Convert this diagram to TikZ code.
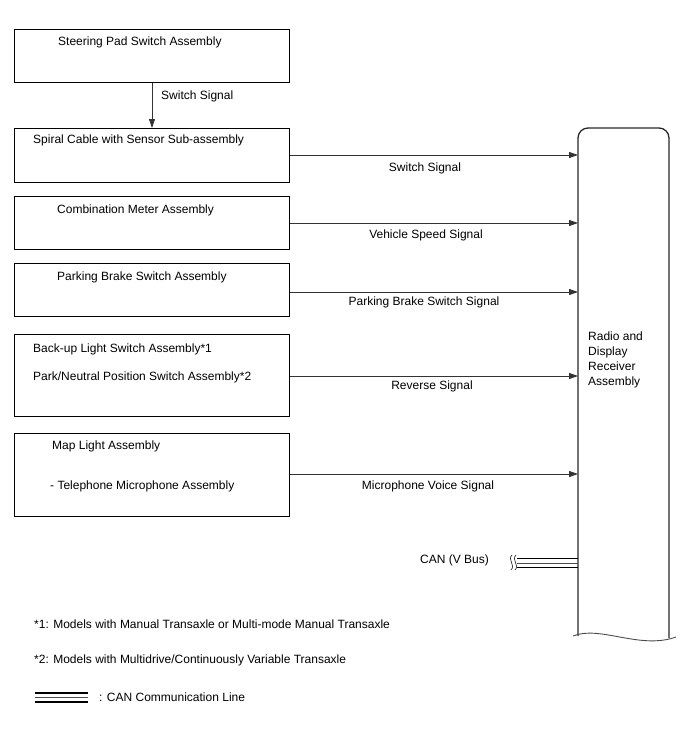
\documentclass[tikz,border=0pt]{standalone}
\usepackage{fontspec}
\setmainfont{Liberation Sans}
\usetikzlibrary{arrows.meta}
\begin{document}
\begin{tikzpicture}[x=1pt,y=-1pt,
  box/.style={draw=black,line width=0.9pt,anchor=north west,inner sep=0pt,minimum width=275pt},
  txt/.style={inner sep=0pt,anchor=base west,font=\fontsize{12}{14}\selectfont},
  lbl/.style={inner sep=0pt,anchor=base,font=\fontsize{12}{14}\selectfont},
  sig/.style={draw=black!80,line width=0.8pt,-{Triangle[length=9pt,width=6pt]}},
  canline/.style={line width=1.6pt,black}]
\useasboundingbox (0,0) rectangle (688,755);
% boxes
\node[box,minimum height=53pt] (b1) at (14,29) {};
\node[box,minimum height=54pt] (b2) at (14,128) {};
\node[box,minimum height=53pt] (b3) at (14,196) {};
\node[box,minimum height=53pt] (b4) at (14,263) {};
\node[box,minimum height=82pt] (b5) at (14,334) {};
\node[box,minimum height=83pt] (b6) at (14,433) {};
% box texts
\node[txt] (t1) at (58,45) {Steering Pad Switch Assembly};
\node[txt] (t2) at (33,143) {Spiral Cable with Sensor Sub-assembly};
\node[txt] (t3) at (57,213) {Combination Meter Assembly};
\node[txt] (t4) at (57,280) {Parking Brake Switch Assembly};
\node[txt] (t5a) at (33,352) {Back-up Light Switch Assembly*1};
\node[txt] (t5b) at (33,380) {Park/Neutral Position Switch Assembly*2};
\node[txt] (t6a) at (52,449) {Map Light Assembly};
\node[txt] (t6b) at (50,489) {- Telephone Microphone Assembly};
% radio receiver
\coordinate (rw) at (578,128);
\draw[draw=black!85,line width=1.3pt,rounded corners=10pt] (578,636) -- (578,128) -- (669,128) -- (669,638);
\draw[draw=black!70,line width=0.9pt] (573,636) .. controls (600,625) and (640,650) .. (676,637);
\node[txt] (r1) at (588,340) {Radio and};
\node[txt] (r2) at (588,355) {Display};
\node[txt] (r3) at (588,370) {Receiver};
\node[txt] (r4) at (588,385) {Assembly};
% connectors
\draw[sig] (b1.south -| 152,0) -- (b2.north -| 152,0);
\node[txt] (l1) at (161,99) {Switch Signal};
\draw[sig] (b2.east |- 0,155) -- (rw |- 0,155);
\node[lbl] (l2) at (425,171) {Switch Signal};
\draw[sig] (b3.east |- 0,223) -- (rw |- 0,223);
\node[lbl] (l3) at (426,238) {Vehicle Speed Signal};
\draw[sig] (b4.east |- 0,292) -- (rw |- 0,292);
\node[lbl] (l4) at (424,305) {Parking Brake Switch Signal};
\draw[sig] (b5.east |- 0,376) -- (rw |- 0,376);
\node[lbl] (l5) at (432,389) {Reverse Signal};
\draw[sig] (b6.east |- 0,474) -- (rw |- 0,474);
\node[lbl] (l6) at (428,489) {Microphone Voice Signal};
% CAN
\draw[canline] (517,558.5) -- (rw |- 0,558.5);
\draw[line width=1pt,black!70] (517,563) -- (rw |- 0,563);
\draw[canline] (517,567.5) -- (rw |- 0,567.5);
\draw[line width=0.7pt,black!80] (512,555) .. controls (507,560) and (516,565) .. (511,570);
\draw[line width=0.7pt,black!80] (516,555) .. controls (511,560) and (520,565) .. (515,570);
\node[txt,anchor=base east] (can) at (489,563) {CAN (V Bus)};
% footnotes
\node[txt] (f1) at (34,628) {*1: Models with Manual Transaxle or Multi-mode Manual Transaxle};
\node[txt] (f2) at (34,663) {*2: Models with Multidrive/Continuously Variable Transaxle};
\draw[canline] (35,693) -- (88,693);
\draw[line width=1pt,black!70] (35,697.5) -- (88,697.5);
\draw[canline] (35,702) -- (88,702);
\node[txt] (leg) at (99,701) {: CAN Communication Line};
\end{tikzpicture}
\end{document}
